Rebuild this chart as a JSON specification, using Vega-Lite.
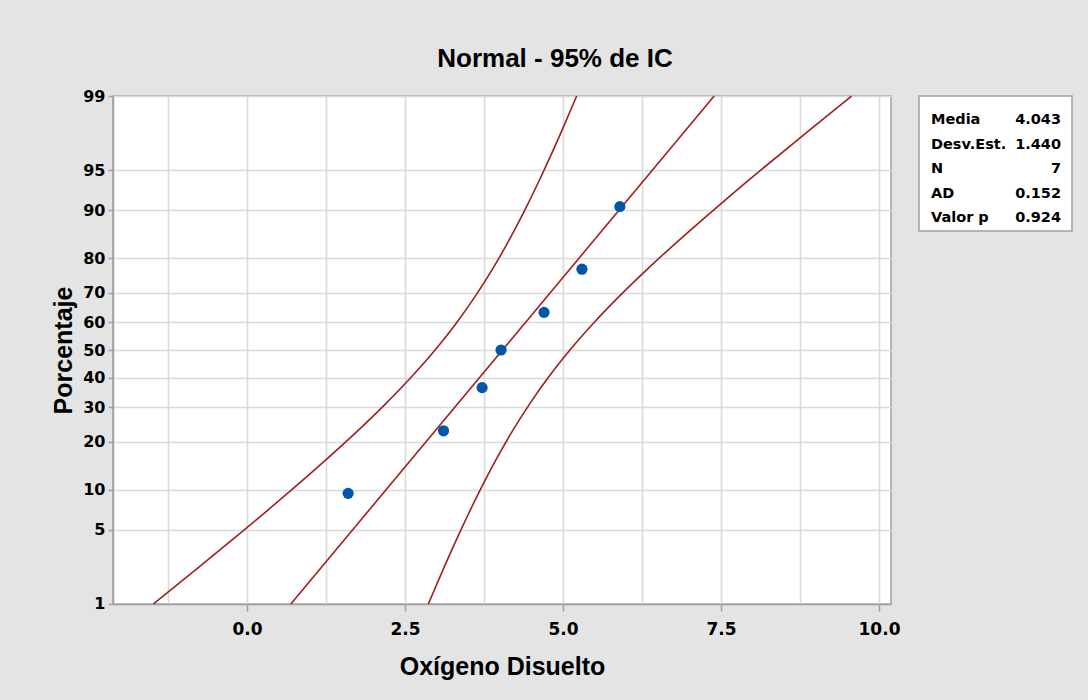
{
  "$schema": "https://vega.github.io/schema/vega-lite/v6.json",
  "background": "#E4E4E4",
  "padding": {"left": 50, "top": 45, "right": 18, "bottom": 20},
  "bounds": "flush",
  "spacing": 28,
  "datasets": {
    "ci": [
      {"band": "lower", "z": -2.3263, "x": -1.481},
      {"band": "lower", "z": -2.0, "x": -0.785},
      {"band": "lower", "z": -1.645, "x": -0.039},
      {"band": "lower", "z": -1.5, "x": 0.261},
      {"band": "lower", "z": -1.2816, "x": 0.705},
      {"band": "lower", "z": -1.0, "x": 1.261},
      {"band": "lower", "z": -0.75, "x": 1.734},
      {"band": "lower", "z": -0.5, "x": 2.181},
      {"band": "lower", "z": -0.25, "x": 2.597},
      {"band": "lower", "z": 0.0, "x": 2.976},
      {"band": "lower", "z": 0.25, "x": 3.317},
      {"band": "lower", "z": 0.5, "x": 3.621},
      {"band": "lower", "z": 0.75, "x": 3.894},
      {"band": "lower", "z": 1.0, "x": 4.141},
      {"band": "lower", "z": 1.2816, "x": 4.396},
      {"band": "lower", "z": 1.5, "x": 4.581},
      {"band": "lower", "z": 1.645, "x": 4.699},
      {"band": "lower", "z": 2.0, "x": 4.975},
      {"band": "lower", "z": 2.3263, "x": 5.217},
      {"band": "upper", "z": -2.3263, "x": 2.869},
      {"band": "upper", "z": -2.0, "x": 3.111},
      {"band": "upper", "z": -1.645, "x": 3.387},
      {"band": "upper", "z": -1.5, "x": 3.505},
      {"band": "upper", "z": -1.2816, "x": 3.69},
      {"band": "upper", "z": -1.0, "x": 3.945},
      {"band": "upper", "z": -0.75, "x": 4.192},
      {"band": "upper", "z": -0.5, "x": 4.465},
      {"band": "upper", "z": -0.25, "x": 4.769},
      {"band": "upper", "z": 0.0, "x": 5.11},
      {"band": "upper", "z": 0.25, "x": 5.489},
      {"band": "upper", "z": 0.5, "x": 5.905},
      {"band": "upper", "z": 0.75, "x": 6.352},
      {"band": "upper", "z": 1.0, "x": 6.825},
      {"band": "upper", "z": 1.2816, "x": 7.382},
      {"band": "upper", "z": 1.5, "x": 7.825},
      {"band": "upper", "z": 1.645, "x": 8.125},
      {"band": "upper", "z": 2.0, "x": 8.871},
      {"band": "upper", "z": 2.3263, "x": 9.567}
    ],
    "fit": [
      {"x": 0.694, "z": -2.3263},
      {"x": 7.392, "z": 2.3263}
    ],
    "pts": [
      {"x": 1.6, "z": -1.313},
      {"x": 3.11, "z": -0.74},
      {"x": 3.72, "z": -0.345},
      {"x": 4.02, "z": 0.0},
      {"x": 4.7, "z": 0.345},
      {"x": 5.3, "z": 0.74},
      {"x": 5.9, "z": 1.313}
    ],
    "stats": [
      {"row": 0, "label": "Media", "value": "4.043"},
      {"row": 1, "label": "Desv.Est.", "value": "1.440"},
      {"row": 2, "label": "N", "value": "7"},
      {"row": 3, "label": "AD", "value": "0.152"},
      {"row": 4, "label": "Valor p", "value": "0.924"}
    ]
  },
  "hconcat": [
    {
      "width": 778,
      "height": 508,
      "title": {
        "text": "Normal - 95% de IC",
        "anchor": "middle",
        "frame": "group",
        "dx": 53,
        "offset": 16,
        "fontSize": 26,
        "font": "Liberation Sans",
        "fontWeight": "bold",
        "color": "black"
      },
      "layer": [
        {
          "data": {"name": "ci"},
          "mark": {"type": "line", "color": "#A01E1E", "strokeWidth": 1.6, "interpolate": "monotone"},
          "encoding": {
            "x": {
              "field": "x",
              "type": "quantitative",
              "scale": {"domain": [-2.12, 10.19], "nice": false, "zero": false},
              "axis": {
                "title": "Oxígeno Disuelto",
                "values": [-1.25, 0, 1.25, 2.5, 3.75, 5, 6.25, 7.5, 8.75, 10],
                "labelExpr": "datum.value % 2.5 === 0 ? format(datum.value, '.1f') : ''",
                "tickOpacity": {"condition": {"test": "datum.value % 2.5 === 0", "value": 1}, "value": 0},
                "labelFont": "DejaVu Sans",
                "labelFontSize": 17,
                "labelFontWeight": "bold",
                "labelColor": "black",
                "labelPadding": 10,
                "labelFlush": false,
                "labelOverlap": false,
                "tickSize": 7,
                "tickColor": "#A0A0A0",
                "tickWidth": 1.5,
                "domainColor": "#A0A0A0",
                "domainWidth": 1.5,
                "grid": true,
                "gridColor": "#DADADA",
                "gridWidth": 1.6,
                "titleFont": "Liberation Sans",
                "titleFontSize": 25,
                "titleFontWeight": "bold",
                "titleColor": "black",
                "titlePadding": 17
              }
            },
            "y": {
              "field": "z",
              "type": "quantitative",
              "scale": {"domain": [-2.3264, 2.3264], "nice": false, "zero": false},
              "axis": {
                "title": "Porcentaje",
                "values": [-2.3263, -1.6449, -1.2816, -0.8416, -0.5244, -0.2533, 0, 0.2533, 0.5244, 0.8416, 1.2816, 1.6449, 2.3263],
                "labelExpr": "format(round(cumulativeNormal(datum.value) * 100), 'd')",
                "labelFont": "DejaVu Sans",
                "labelFontSize": 16,
                "labelFontWeight": "bold",
                "labelColor": "black",
                "labelPadding": 3,
                "labelFlush": false,
                "labelOverlap": false,
                "tickSize": 5,
                "tickColor": "#A0A0A0",
                "tickWidth": 1.5,
                "domainColor": "#A0A0A0",
                "domainWidth": 1.5,
                "grid": true,
                "gridColor": "#DADADA",
                "gridWidth": 1.6,
                "titleFont": "Liberation Sans",
                "titleFontSize": 25,
                "titleFontWeight": "bold",
                "titleColor": "black",
                "titlePadding": 6
              }
            },
            "detail": {"field": "band"},
            "order": {"field": "z"}
          }
        },
        {
          "data": {"name": "fit"},
          "mark": {"type": "line", "color": "#A01E1E", "strokeWidth": 1.6},
          "encoding": {
            "x": {"field": "x", "type": "quantitative"},
            "y": {"field": "z", "type": "quantitative"}
          }
        },
        {
          "data": {"name": "pts"},
          "mark": {"type": "point", "filled": true, "size": 125, "color": "#0057A8", "opacity": 1},
          "encoding": {
            "x": {"field": "x", "type": "quantitative"},
            "y": {"field": "z", "type": "quantitative"}
          }
        }
      ]
    },
    {
      "width": 153,
      "height": 135,
      "data": {"name": "stats"},
      "layer": [
        {
          "mark": {"type": "text", "align": "left", "baseline": "middle", "dx": 12, "font": "DejaVu Sans", "fontWeight": "bold", "fontSize": 14.5, "color": "black"},
          "encoding": {
            "x": {"datum": 0, "type": "quantitative", "scale": {"domain": [0, 1], "nice": false, "zero": false}, "axis": null},
            "y": {"field": "row", "type": "quantitative", "scale": {"domain": [4.53, -0.98], "nice": false, "zero": false}, "axis": null},
            "text": {"field": "label"}
          }
        },
        {
          "mark": {"type": "text", "align": "right", "baseline": "middle", "dx": -11, "font": "DejaVu Sans", "fontWeight": "bold", "fontSize": 14.5, "color": "black"},
          "encoding": {
            "x": {"datum": 1, "type": "quantitative"},
            "y": {"field": "row", "type": "quantitative"},
            "text": {"field": "value"}
          }
        }
      ]
    }
  ],
  "config": {
    "view": {"fill": "white", "stroke": "#A0A0A0", "strokeWidth": 1.5}
  }
}
